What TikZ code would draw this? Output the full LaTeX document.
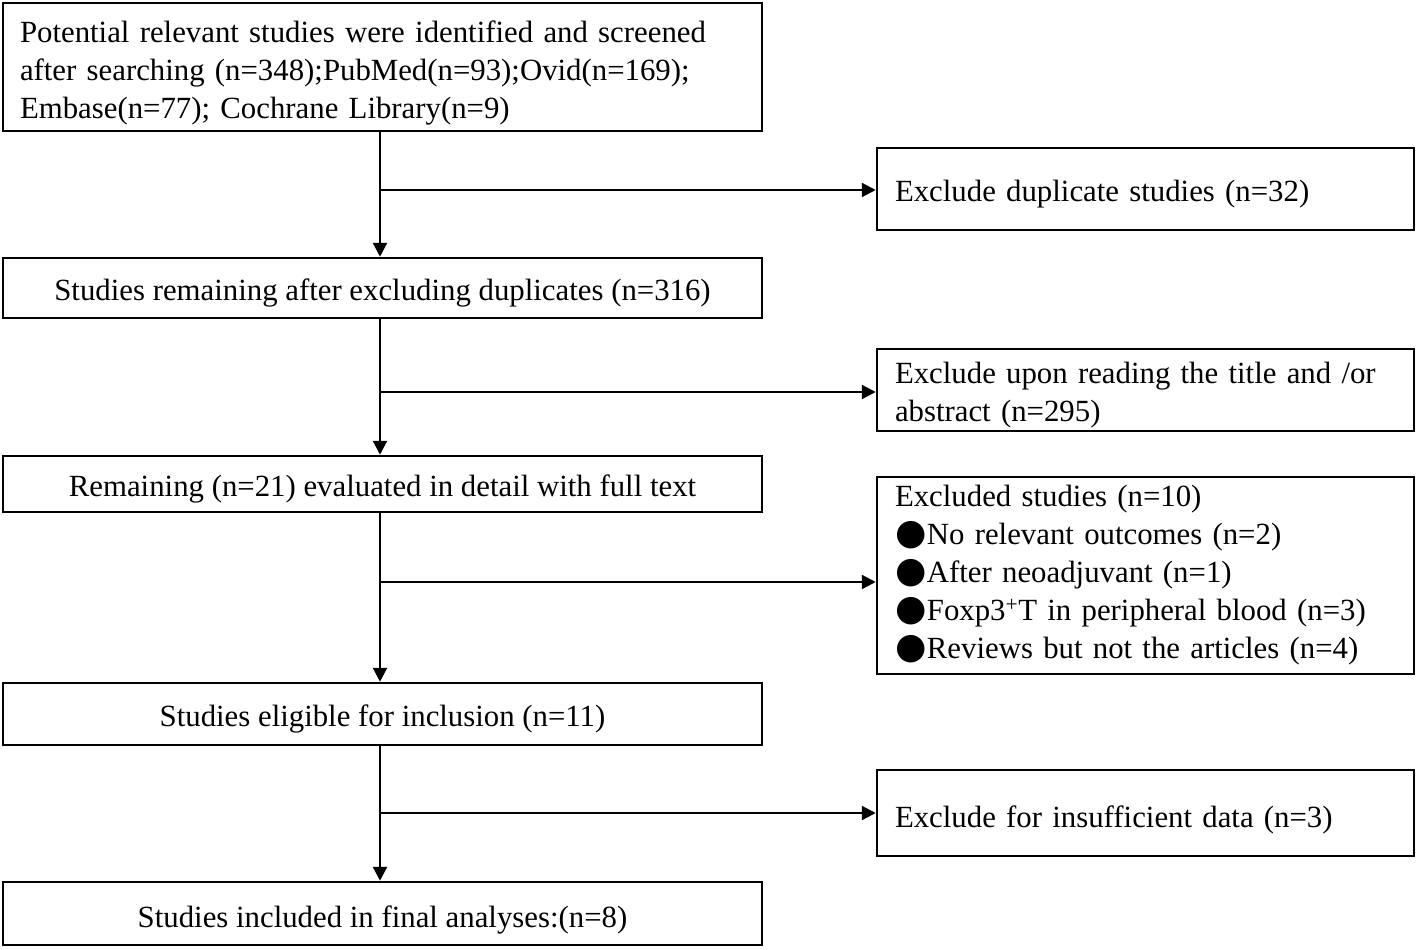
\documentclass[tikz,border=0pt]{standalone}
\usepackage{fontspec}
\setmainfont{Liberation Serif}
\newfontfamily\dejavu{DejaVu Sans}
\usetikzlibrary{arrows.meta}
\newcommand\blt{{\dejavu\fontsize{36}{36}\selectfont ●}\hspace{0.5pt}}
\tikzset{
  box/.style={draw, line width=2.5pt, inner sep=0pt, font=\fontsize{30.8}{38}\selectfont},
  lower/.style={execute at begin node={\rule{0pt}{#1}}},
  lbox/.style={box, minimum width=759pt, lower=32.5pt},
  rbox/.style={box, minimum width=537pt, text width=501pt, align=left},
  flow/.style={line width=2.3pt, -{Triangle[length=14pt,width=14pt]}},
}
\begin{document}
\begin{tikzpicture}[x=1pt,y=-1pt]
\useasboundingbox (0,0) rectangle (1416,950);
\node[lbox, lower=34.5pt, minimum height=128pt, text width=725pt, align=left] (top) at (382.5,67)
  {Potential relevant studies were identified and screened\\
   after searching (n=348);PubMed(n=93);Ovid(n=169);\\
   Embase(n=77); Cochrane Library(n=9)};
\node[rbox, lower=32.5pt, minimum height=82pt] (r1) at (1145.5,189) {Exclude duplicate studies (n=32)};
\node[lbox, minimum height=60pt] (b2) at (382.5,288) {Studies remaining after excluding duplicates (n=316)};
\node[rbox, lower=32.5pt, minimum height=82pt] (r2) at (1145.5,390)
  {\makebox[\linewidth][s]{Exclude upon reading the title and /or}\\abstract (n=295)};
\node[lbox, minimum height=56pt] (b3) at (382.5,484) {Remaining (n=21) evaluated in detail with full text};
\node[rbox, minimum height=197pt] (r3) at (1145.5,575.5)
  {Excluded studies (n=10)\\
   \blt No relevant outcomes (n=2)\\
   \blt After neoadjuvant (n=1)\\
   \blt Foxp3\textsuperscript{+}T in peripheral blood (n=3)\\
   \blt Reviews but not the articles (n=4)};
\node[lbox, minimum height=62pt] (b4) at (382.5,714) {Studies eligible for inclusion (n=11)};
\node[rbox, lower=35pt, minimum height=86pt] (r4) at (1145.5,813) {Exclude for insufficient data (n=3)};
\node[lbox, lower=35pt, minimum height=63pt] (b5) at (382.5,913.5) {Studies included in final analyses:(n=8)};

\coordinate (s1) at (380,190);
\coordinate (s2) at (380,392);
\coordinate (s3) at (380,582);
\coordinate (s4) at (380,813);
\draw[flow] (top.south -| s1) -- (b2.north -| s1);
\draw[flow] (b2.south -| s1) -- (b3.north -| s1);
\draw[flow] (b3.south -| s1) -- (b4.north -| s1);
\draw[flow] (b4.south -| s1) -- (b5.north -| s1);
\draw[flow] (s1) -- (r1.west |- s1);
\draw[flow] (s2) -- (r2.west |- s2);
\draw[flow] (s3) -- (r3.west |- s3);
\draw[flow] (s4) -- (r4.west |- s4);
\end{tikzpicture}
\end{document}
